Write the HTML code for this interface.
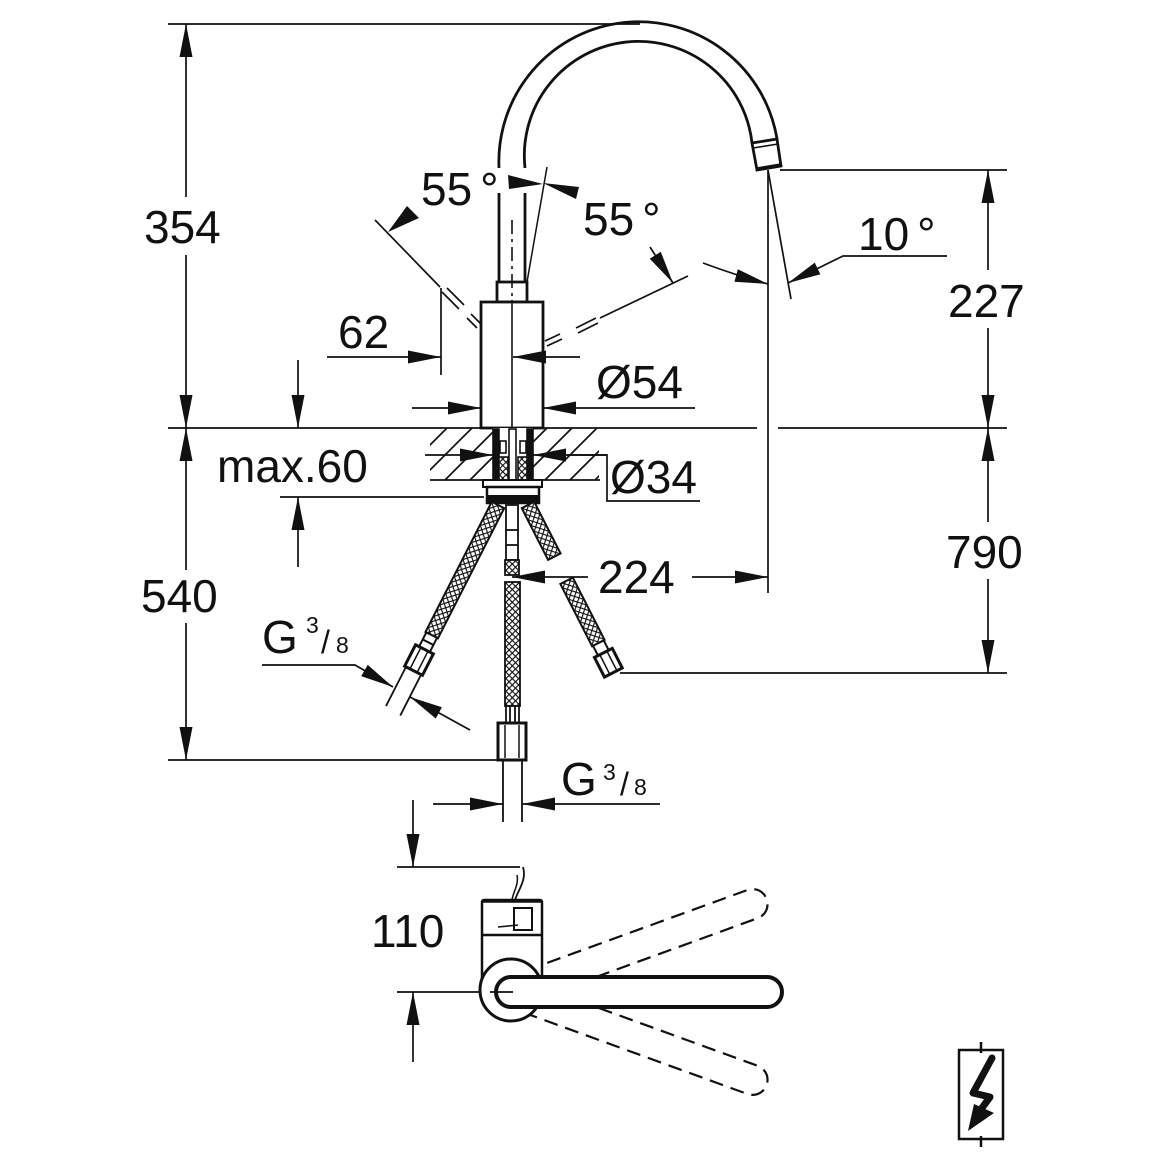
<!DOCTYPE html>
<html><head><meta charset="utf-8">
<style>
html,body{margin:0;padding:0;background:#fff}
svg{display:block}
text{font-family:"Liberation Sans",Arial,sans-serif;fill:#111}
</style></head>
<body>
<svg width="1160" height="1160" viewBox="0 0 1160 1160" xmlns="http://www.w3.org/2000/svg">
<defs>
<marker id="a" viewBox="0 0 33 13" refX="33" refY="6.5" markerWidth="33" markerHeight="13" markerUnits="userSpaceOnUse" orient="auto"><path d="M0,0L33,6.5L0,13z" fill="#111" stroke="none"/></marker>
<pattern id="mesh" width="4.5" height="4.5" patternUnits="userSpaceOnUse" patternTransform="rotate(45)"><rect width="4.5" height="4.5" fill="#fff"/><path d="M0 0H4.5M0 0V4.5" stroke="#111" stroke-width="2.3"/></pattern>
<pattern id="hatch" width="25" height="25" patternUnits="userSpaceOnUse"><path d="M-5 5L5-5M0 25L25 0M20 30L30 20" stroke="#111" stroke-width="1.7"/></pattern>
</defs>

<!-- hatch block -->
<rect x="430" y="428" width="63" height="52" fill="url(#hatch)"/>
<rect x="533" y="428" width="66" height="52" fill="url(#hatch)"/>

<g stroke="#111" fill="none" stroke-width="1.7">
  <line x1="168" y1="24" x2="640" y2="24"/>
  <line x1="168" y1="428" x2="757" y2="428"/>
  <line x1="778" y1="428" x2="1007" y2="428"/>
  <line x1="168" y1="760" x2="498" y2="760"/>
  <line x1="280" y1="497" x2="484" y2="497"/>
  <line x1="780" y1="170" x2="1007" y2="170"/>
  <line x1="620" y1="673" x2="1007" y2="673"/>
  <line x1="441" y1="288" x2="441" y2="375"/>
  <line x1="768" y1="170" x2="768" y2="593"/>
  <line x1="768" y1="170" x2="791" y2="299"/>
  <line x1="430" y1="480" x2="600" y2="480"/>
  <line x1="397" y1="867" x2="520" y2="867"/>
  <line x1="397" y1="992" x2="513" y2="992"/>
  <polyline points="567,455 607,455 607,501 700,501"/>

  <line x1="186" y1="197" x2="186" y2="24" marker-end="url(#a)"/>
  <line x1="186" y1="255" x2="186" y2="428" marker-end="url(#a)"/>
  <line x1="186" y1="570" x2="186" y2="428" marker-end="url(#a)"/>
  <line x1="186" y1="623" x2="186" y2="760" marker-end="url(#a)"/>
  <line x1="298" y1="360" x2="298" y2="428" marker-end="url(#a)"/>
  <line x1="298" y1="567" x2="298" y2="497" marker-end="url(#a)"/>
  <line x1="327" y1="357" x2="441" y2="357" marker-end="url(#a)"/>
  <line x1="412" y1="408" x2="481" y2="408" marker-end="url(#a)"/>
  <line x1="695" y1="408" x2="543" y2="408" marker-end="url(#a)"/>
  <line x1="692" y1="577" x2="768" y2="577" marker-end="url(#a)"/>
  <line x1="988" y1="270" x2="988" y2="170" marker-end="url(#a)"/>
  <line x1="988" y1="328" x2="988" y2="428" marker-end="url(#a)"/>
  <line x1="988" y1="522" x2="988" y2="428" marker-end="url(#a)"/>
  <line x1="988" y1="579" x2="988" y2="673" marker-end="url(#a)"/>
  <line x1="413" y1="800" x2="413" y2="867" marker-end="url(#a)"/>
  <line x1="413" y1="1062" x2="413" y2="992" marker-end="url(#a)"/>
  <line x1="433" y1="804" x2="503" y2="804" marker-end="url(#a)"/>
  <line x1="660" y1="804" x2="522" y2="804" marker-end="url(#a)"/>
  <polyline points="262,665 355,665 393,687" marker-end="url(#a)"/>
  <line x1="470" y1="730" x2="410" y2="697" marker-end="url(#a)"/>
  <path d="M703,263 Q738,276 768,284" marker-end="url(#a)"/>
  <polyline points="947,256 843,256 788,283" marker-end="url(#a)"/>
  <line x1="650" y1="247" x2="673" y2="283" marker-end="url(#a)"/>

  <line x1="375" y1="220" x2="440" y2="287"/>
  <line x1="442" y1="292" x2="459" y2="309"/>
  <line x1="447" y1="288" x2="464" y2="305"/>
  <line x1="467" y1="318" x2="477" y2="328"/>
  <line x1="471" y1="314" x2="481" y2="324"/>
  <line x1="688" y1="276" x2="600" y2="318"/>
  <line x1="576" y1="328" x2="596" y2="318"/>
  <line x1="578" y1="333" x2="598" y2="323"/>
  <line x1="545" y1="341" x2="560" y2="334"/>
  <line x1="547" y1="346" x2="562" y2="339"/>
  <line x1="547" y1="167" x2="527" y2="282" stroke-width="1.5"/>
</g>

<polygon points="508,175 509,189 543,184" fill="#111"/>
<polygon points="543,183 579,187 576,199" fill="#111"/>
<polygon points="388,232 407,206 419,218" fill="#111"/>

<g stroke="#111" fill="none" stroke-width="2.8">
  <path d="M499,168 A140,140 0 0 1 777,139"/>
  <path d="M525,168 A114,114 0 0 1 752,143"/>
  <line x1="499" y1="193" x2="499" y2="282"/>
  <line x1="525" y1="193" x2="525" y2="282"/>
  <polygon points="752,143 777,139 781,166 757,170" fill="#fff"/>
  <line x1="753" y1="148" x2="778" y2="144" stroke-width="1.6"/>
  <line x1="757" y1="169" x2="781" y2="165" stroke-width="3.5"/>
  <rect x="497" y="282" width="30" height="20" fill="#fff"/>
  <rect x="481" y="302" width="62" height="126" fill="#fff"/>
</g>
<line x1="512" y1="220" x2="512" y2="300" stroke="#111" stroke-width="1.6" stroke-dasharray="14 5 3 5"/>
<line x1="512" y1="300" x2="512" y2="505" stroke="#111" stroke-width="1.6"/>
<line x1="580" y1="357" x2="513" y2="357" stroke="#111" stroke-width="1.7" marker-end="url(#a)"/>

<g stroke="#111" stroke-width="1.6">
  <rect x="493" y="428" width="40" height="52" fill="#fff" stroke="none"/>
  <rect x="493" y="429" width="6" height="51" fill="#111"/>
  <rect x="527" y="429" width="6" height="51" fill="#111"/>
  <rect x="509" y="429" width="7" height="51" fill="#fff"/>
  <rect x="500" y="441" width="6" height="12" fill="#fff"/>
  <rect x="520" y="441" width="6" height="12" fill="#fff"/>
  <rect x="499" y="457" width="9" height="23" fill="url(#mesh)"/>
  <rect x="518" y="457" width="9" height="23" fill="url(#mesh)"/>
</g>
<g stroke="#111" stroke-width="1.7" fill="none">
  <line x1="425" y1="455" x2="493" y2="455" marker-end="url(#a)"/>
  <line x1="607" y1="455" x2="533" y2="455" marker-end="url(#a)"/>
</g>
<rect x="483" y="480" width="59" height="7" fill="#fff" stroke="#111" stroke-width="2"/>
<rect x="487" y="487" width="52" height="16" fill="#fff" stroke="#111" stroke-width="2.5"/>
<rect x="487" y="495" width="52" height="9" fill="#111"/>

<g transform="translate(498,505) rotate(27)" stroke="#111" stroke-width="2">
  <rect x="-7" y="0" width="14" height="146" fill="url(#mesh)"/>
  <rect x="-6" y="146" width="12" height="16" fill="#fff"/>
  <line x1="-6" y1="154" x2="6" y2="154"/>
  <rect x="-10" y="162" width="20" height="24" fill="#fff" stroke-width="3"/>
  <line x1="-4" y1="163" x2="-4" y2="185" stroke-width="1.5"/>
  <line x1="4" y1="163" x2="4" y2="185" stroke-width="1.5"/>
  <line x1="-8.5" y1="186" x2="-8.5" y2="230" stroke-width="1.8"/>
  <line x1="8.5" y1="186" x2="8.5" y2="232" stroke-width="1.8"/>
</g>
<g transform="translate(528,505) rotate(-27)" stroke="#111" stroke-width="2">
  <rect x="-7" y="0" width="14" height="58" fill="url(#mesh)"/>
  <rect x="-7" y="85" width="14" height="70" fill="url(#mesh)"/>
  <rect x="-6" y="155" width="12" height="11" fill="#fff"/>
  <rect x="-10" y="166" width="20" height="22" fill="#fff" stroke-width="3"/>
  <line x1="-4" y1="167" x2="-4" y2="187" stroke-width="1.5"/>
  <line x1="4" y1="167" x2="4" y2="187" stroke-width="1.5"/>
</g>
<g stroke="#111" stroke-width="1.8">
  <rect x="506" y="505" width="12" height="55" fill="#fff"/>
  <line x1="506" y1="530" x2="518" y2="530"/>
  <line x1="506" y1="545" x2="518" y2="545"/>
  <rect x="505" y="560" width="14" height="15" fill="url(#mesh)"/>
  <rect x="505" y="582" width="15" height="124" fill="url(#mesh)"/>
  <rect x="506" y="706" width="13" height="17" fill="#fff"/>
  <line x1="510" y1="706" x2="510" y2="723"/>
  <line x1="515" y1="706" x2="515" y2="723"/>
  <rect x="498" y="723" width="28" height="37" fill="#fff" stroke-width="3"/>
  <line x1="505" y1="725" x2="505" y2="758" stroke-width="1.5"/>
  <line x1="519" y1="725" x2="519" y2="758" stroke-width="1.5"/>
  <line x1="503" y1="760" x2="503" y2="822"/>
  <line x1="522" y1="760" x2="522" y2="822"/>
</g>
<line x1="588" y1="577" x2="512" y2="577" stroke="#111" stroke-width="1.7" marker-end="url(#a)"/>

<g transform="translate(511,992) rotate(-20)"><rect x="-15" y="-15" width="287" height="30" rx="15" fill="none" stroke="#111" stroke-width="2.2" stroke-dasharray="14 8"/></g>
<g transform="translate(511,992) rotate(20)"><rect x="-15" y="-15" width="287" height="30" rx="15" fill="none" stroke="#111" stroke-width="2.2" stroke-dasharray="14 8"/></g>
<g stroke="#111" fill="#fff">
  <rect x="482" y="900" width="60" height="80" stroke-width="2.5" rx="2"/>
  <line x1="482" y1="935" x2="542" y2="935" stroke-width="2.5"/>
  <line x1="483" y1="901" x2="541" y2="901" stroke-width="3.5"/>
  <rect x="514" y="908" width="18" height="22" stroke-width="2"/>
  <path d="M523,867 C527,880 518,890 515,900" fill="none" stroke-width="1.8"/>
  <path d="M517,875 C519,885 513,892 512,900" fill="none" stroke-width="1.5"/>
  <line x1="498" y1="927" x2="518" y2="925" stroke-width="1.6"/>
  <circle cx="511" cy="990" r="31" stroke-width="3"/>
  <rect x="496" y="977" width="286" height="30" rx="15" stroke-width="4"/>
</g>
<line x1="490" y1="992" x2="513" y2="992" stroke="#111" stroke-width="1.7"/>

<g stroke="#111" fill="none">
  <rect x="959" y="1050" width="44" height="89" stroke-width="2.5"/>
  <line x1="981" y1="1042" x2="981" y2="1053" stroke-width="2.5"/>
  <line x1="981" y1="1136" x2="981" y2="1147" stroke-width="2.5"/>
  <polyline points="992,1058 973,1093 990,1097 979,1112" stroke-width="7" stroke-linecap="round" stroke-linejoin="round"/>
</g>
<polygon points="968,1131 974,1104 994,1113" fill="#111"/>

<g font-size="46">
  <text x="144" y="243">354</text>
  <text x="141" y="612">540</text>
  <text x="217" y="482">max.60</text>
  <text x="338" y="348">62</text>
  <text x="596" y="398">Ø54</text>
  <text x="610" y="493">Ø34</text>
  <text x="421" y="205">55<tspan dx="8">°</tspan></text>
  <text x="583" y="235">55<tspan dx="8">°</tspan></text>
  <text x="858" y="250">10<tspan dx="8">°</tspan></text>
  <text x="948" y="317">227</text>
  <text x="946" y="568">790</text>
  <text x="598" y="593">224</text>
  <text x="371" y="947">110</text>
  <text x="262" y="653">G</text>
  <text x="561" y="795">G</text>
</g>
<g font-size="23">
  <text x="306" y="633">3</text>
  <text x="336" y="653">8</text>
  <text x="603" y="780">3</text>
  <text x="634" y="795">8</text>
</g>
<g font-size="32">
  <text x="321" y="653">/</text>
  <text x="620" y="795">/</text>
</g>
</svg>
</body></html>
